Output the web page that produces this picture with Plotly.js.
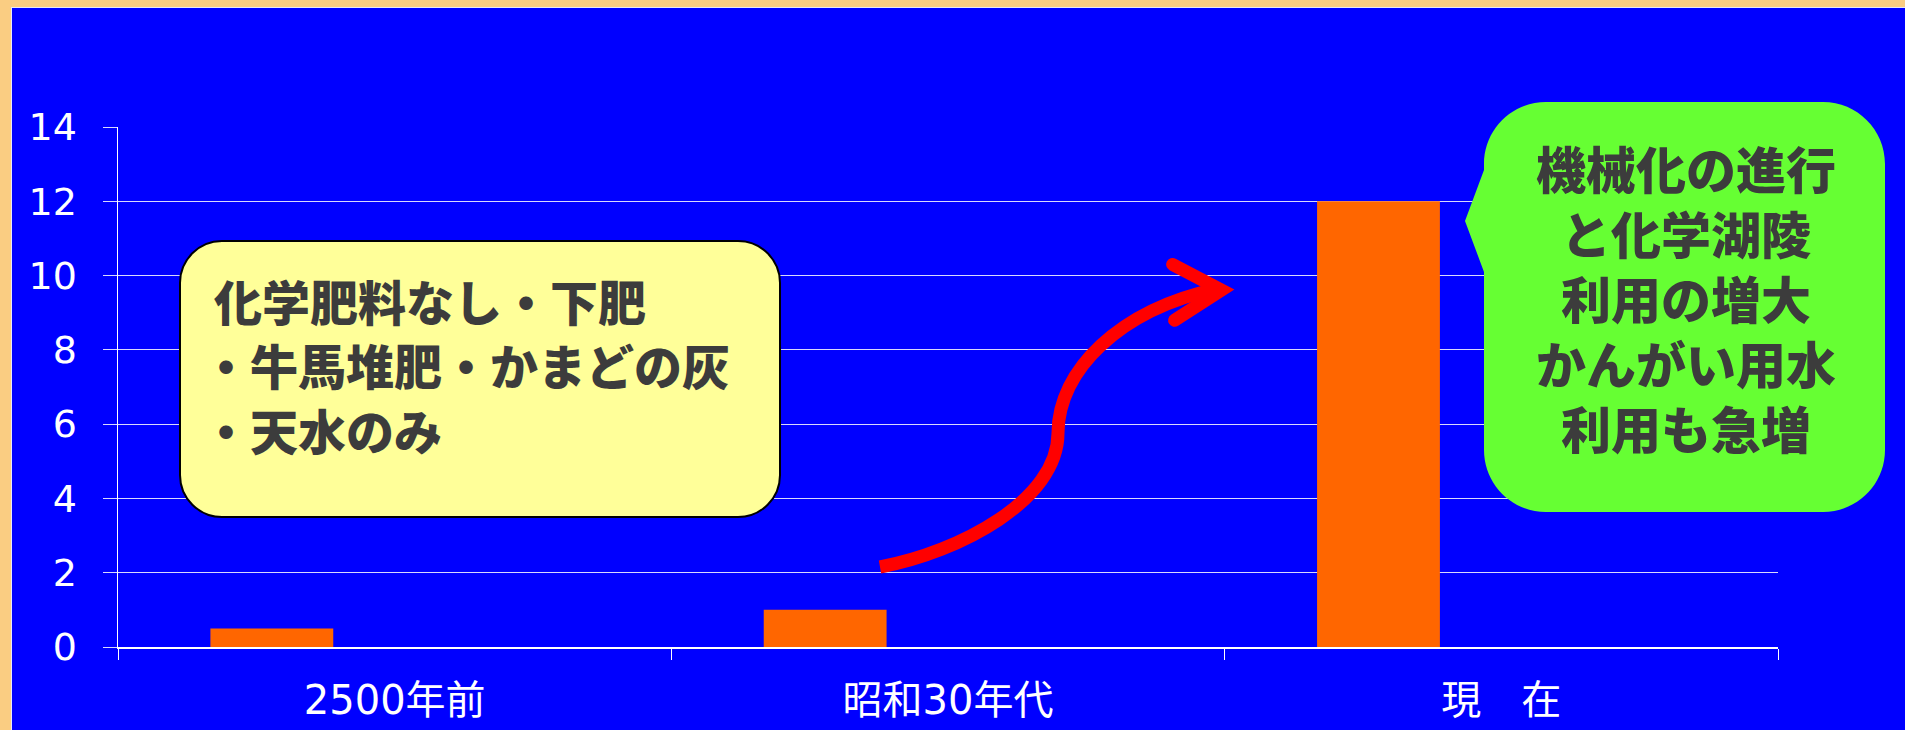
<!DOCTYPE html>
<html><head><meta charset="utf-8">
<script src="https://cdn.plot.ly/plotly-3.0.1.min.js"></script>
<style>
html,body{margin:0;padding:0;width:1905px;height:730px;overflow:hidden;background:#FACD82;}
#frame{position:absolute;left:11px;top:7px;width:1894px;height:723px;background:#E8E8FA;}
#chart{position:absolute;left:12px;top:8px;width:1893px;height:722px;}
#chart .shapelayer path[data-index="2"]{stroke-linecap:butt;}
#chart .shapelayer path[data-index="3"]{stroke-linecap:round;stroke-linejoin:miter;stroke-miterlimit:6;}
</style></head><body>
<div id="frame"></div><div id="chart"></div>
<script>
// ---- data ----
const categories = ['2500年前', '昭和30年代', '現　在'];
const values = [0.5, 1, 12];
const yTickValues = [0, 2, 4, 6, 8, 10, 12, 14];
const yTickLabels = ['0', '2', '4', '6', '8', '10', '12', '14'];
const yellowNoteLines = ['化学肥料なし・下肥', '・牛馬堆肥・かまどの灰', '・天水のみ'];
const greenNoteLines = ['機械化の進行', 'と化学湖陵', '利用の増大', 'かんがい用水', '利用も急増'];

// ---- layout geometry (page pixels -> paper fractions) ----
const PL = 118, PR = 1778, PT = 127, PB = 647;
const fx = x => (x - PL) / (PR - PL);
const fy = y => (PB - y) / (PB - PT);
const pt = (x, y) => fx(x).toFixed(5) + ',' + fy(y).toFixed(5);
const K = 0.5523;

function roundBox(L, T, R, B, r, ptr) {
  let d = 'M' + pt(L + r, T) + ' L' + pt(R - r, T) +
    ' C' + pt(R - r + K * r, T) + ' ' + pt(R, T + r - K * r) + ' ' + pt(R, T + r) +
    ' L' + pt(R, B - r) +
    ' C' + pt(R, B - r + K * r) + ' ' + pt(R - r + K * r, B) + ' ' + pt(R - r, B) +
    ' L' + pt(L + r, B) +
    ' C' + pt(L + r - K * r, B) + ' ' + pt(L, B - r + K * r) + ' ' + pt(L, B - r);
  if (ptr) {
    d += ' L' + pt(L, ptr[0]) + ' L' + pt(ptr[1], ptr[2]) + ' L' + pt(L, ptr[3]);
  }
  d += ' L' + pt(L, T + r) +
    ' C' + pt(L, T + r - K * r) + ' ' + pt(L + r - K * r, T) + ' ' + pt(L + r, T) + ' Z';
  return d;
}

const yellowBox = roundBox(180, 241, 780, 517, 42, null);
const greenBox = roundBox(1484, 102, 1885, 512, 62, [272, 1465, 221, 170]);
const curve = 'M' + pt(880, 567) + ' C' + pt(960, 552) + ' ' + pt(1058, 500) + ' ' + pt(1058, 433) +
  ' C' + pt(1058, 370) + ' ' + pt(1120, 310) + ' ' + pt(1216, 289);
const head = 'M' + pt(1172.6, 264.4) + ' L' + pt(1221.5, 290) + ' L' + pt(1174.6, 320.3);

const noteFont = (size) => ({family: '"Noto Sans CJK JP", sans-serif', size: size, color: '#3C3C3C', weight: 900});

const annotations = [];
const yellowX = [212, 200, 200];
const yellowY = [300, 364, 429];
yellowNoteLines.forEach((t, i) => annotations.push({
  xref: 'paper', yref: 'paper', x: fx(yellowX[i]), y: fy(yellowY[i]),
  xanchor: 'left', yanchor: 'middle', showarrow: false, text: t, font: noteFont(48)
}));
annotations.push({
  xref: 'paper', yref: 'paper', x: fx(1686), y: fy(297),
  xanchor: 'center', yanchor: 'middle', align: 'center', showarrow: false,
  text: greenNoteLines.join('<br>'), font: noteFont(50)
});

const trace = {
  type: 'bar', x: categories, y: values,
  marker: {color: '#FF6600', line: {width: 0}},
  width: 0.222, offset: -0.333, hoverinfo: 'skip'
};

const layout = {
  width: 1893, height: 722,
  margin: {l: 106, r: 127, t: 119, b: 83, pad: 0},
  paper_bgcolor: '#0000FF', plot_bgcolor: '#0000FF',
  showlegend: false,
  xaxis: {
    type: 'category', range: [-0.5, 2.5],
    showline: true, linecolor: '#FFFFFF', linewidth: 2,
    ticks: 'outside', tickson: 'boundaries', ticklen: 11, tickcolor: '#FFFFFF', tickwidth: 1,
    showgrid: false, zeroline: false,
    tickfont: {family: '"DejaVu Sans", "Noto Sans CJK JP", sans-serif', size: 40, color: '#FFFFFF'},
    ticklabelstandoff: 17
  },
  yaxis: {
    range: [0, 14], tickvals: yTickValues, ticktext: yTickLabels,
    showline: true, linecolor: '#FFFFFF', linewidth: 1.5,
    ticks: 'outside', ticklen: 14, tickcolor: '#D8D8FF', tickwidth: 1,
    showgrid: true, gridcolor: '#D8D8FF', gridwidth: 1, zeroline: false,
    tickfont: {family: '"DejaVu Sans", sans-serif', size: 38, color: '#FFFFFF'},
    ticklabelstandoff: 18
  },
  shapes: [
    {type: 'path', xref: 'paper', yref: 'paper', path: yellowBox, fillcolor: '#FFFF99', line: {color: '#000000', width: 2}, layer: 'above'},
    {type: 'path', xref: 'paper', yref: 'paper', path: greenBox, fillcolor: '#66FF33', line: {width: 0}, layer: 'above'},
    {type: 'path', xref: 'paper', yref: 'paper', path: curve, fillcolor: 'rgba(0,0,0,0)', line: {color: '#FF0000', width: 13}, layer: 'above'},
    {type: 'path', xref: 'paper', yref: 'paper', path: head, fillcolor: 'rgba(0,0,0,0)', line: {color: '#FF0000', width: 13}, layer: 'above'}
  ],
  annotations: annotations
};

Plotly.newPlot('chart', [trace], layout, {displayModeBar: false, staticPlot: true});
</script>
</body></html>
